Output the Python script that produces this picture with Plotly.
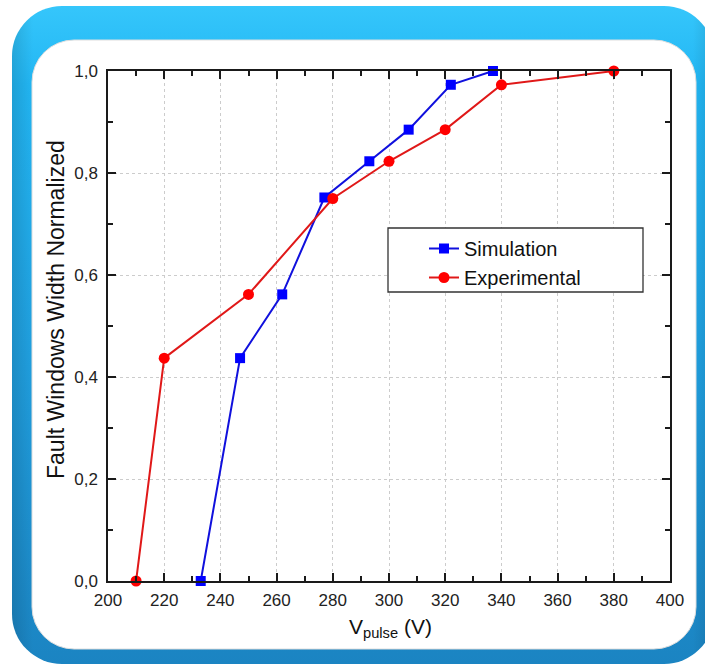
import base64
import plotly.graph_objects as go

# ---- data ----
sim_v = [233, 247, 262, 277, 293, 307, 322, 337]
sim_w = [0.0, 0.437, 0.562, 0.752, 0.823, 0.885, 0.973, 1.0]
exp_v = [210, 220, 250, 280, 300, 320, 340, 380]
exp_w = [0.0, 0.437, 0.562, 0.750, 0.823, 0.885, 0.973, 1.0]
x_ticks = [200, 220, 240, 260, 280, 300, 320, 340, 360, 380, 400]
y_ticks = [0.0, 0.2, 0.4, 0.6, 0.8, 1.0]

W, H = 705, 670
L, R, T, B = 108, 670, 71, 581  # plot area in px
PW, PH = R - L, B - T


def px(x):
    return (x - L) / PW


def py(y):
    return (B - y) / PH


FONT = "Liberation Sans, Arial, sans-serif"

svg = f'''<svg xmlns="http://www.w3.org/2000/svg" width="{W}" height="{H}" viewBox="0 0 {W} {H}">
<defs>
<linearGradient id="g" x1="0" y1="0" x2="0" y2="1">
<stop offset="0" stop-color="#35c6fb"/>
<stop offset="0.12" stop-color="#22b6f3"/>
<stop offset="0.55" stop-color="#209fdf"/>
<stop offset="1" stop-color="#1b84c2"/>
</linearGradient>
<linearGradient id="h" x1="0" y1="0" x2="1" y2="0">
<stop offset="0" stop-color="#000000" stop-opacity="0.12"/>
<stop offset="0.03" stop-color="#000000" stop-opacity="0"/>
<stop offset="0.97" stop-color="#000000" stop-opacity="0"/>
<stop offset="1" stop-color="#000000" stop-opacity="0.12"/>
</linearGradient>
</defs>
<rect x="12" y="6" width="702" height="658" rx="50" ry="50" fill="url(#g)"/>
<rect x="12" y="6" width="702" height="658" rx="50" ry="50" fill="url(#h)"/>
<rect x="32" y="40" width="664" height="609" rx="42" ry="42" fill="#ffffff" stroke="#dedede" stroke-width="1"/>
</svg>'''
src = "data:image/svg+xml;base64," + base64.b64encode(svg.encode()).decode()

fig = go.Figure()
fig.add_trace(go.Scatter(
    x=sim_v, y=sim_w, mode="lines+markers", name="Simulation",
    line=dict(color="#1010dd", width=2),
    marker=dict(symbol="square", size=10, color="#0000ff"),
    cliponaxis=False,
))
fig.add_trace(go.Scatter(
    x=exp_v, y=exp_w, mode="lines+markers", name="Experimental",
    line=dict(color="#e01818", width=2),
    marker=dict(symbol="circle", size=11, color="#ff0000"),
    cliponaxis=False,
))

axis_common = dict(
    showline=True, linecolor="#1a1a1a", linewidth=1.5, mirror="ticks",
    ticks="inside", ticklen=8, tickwidth=1.5, tickcolor="#1a1a1a",
    showgrid=True, gridcolor="#cccccc", griddash="dot", gridwidth=1,
    zeroline=False,
    tickfont=dict(family=FONT, size=17, color="#222222"),
)

fig.update_xaxes(
    range=[200, 400], tickvals=x_ticks, ticktext=[str(v) for v in x_ticks],
    minor=dict(dtick=10, tick0=200, ticks="inside", ticklen=5, tickwidth=1.5,
               tickcolor="#1a1a1a", showgrid=False),
    ticklabelstandoff=3,
    **axis_common,
)
fig.update_yaxes(
    range=[0, 1], tickvals=y_ticks, tickformat=".1f",
    minor=dict(dtick=0.1, tick0=0, ticks="inside", ticklen=5, tickwidth=1.5,
               tickcolor="#1a1a1a", showgrid=False),
    ticklabelstandoff=5,
    **axis_common,
)

fig.update_layout(
    width=W, height=H,
    margin=dict(l=L, r=W - R, t=T, b=H - B, pad=0),
    paper_bgcolor="#ffffff", plot_bgcolor="rgba(0,0,0,0)",
    separators=", ",
    showlegend=True,
    legend=dict(
        x=px(424), y=py(229), xanchor="left", yanchor="top",
        bgcolor="rgba(0,0,0,0)", borderwidth=0,
        font=dict(family=FONT, size=20, color="#111111"),
        tracegroupgap=0,
    ),
    images=[dict(
        source=src, xref="paper", yref="paper",
        x=px(0), y=py(0), sizex=W / PW, sizey=H / PH,
        xanchor="left", yanchor="top", sizing="stretch", layer="below",
    )],
    shapes=[dict(
        type="rect", xref="paper", yref="paper",
        x0=px(388), x1=px(643), y0=py(292), y1=py(228),
        line=dict(color="#333333", width=1.3), fillcolor="#ffffff", layer="above",
    )],
    annotations=[
        dict(text="Fault Windows Width Normalized", textangle=-90,
             xref="paper", yref="paper", x=px(56), y=py(310),
             xanchor="center", yanchor="middle", showarrow=False,
             font=dict(family=FONT, size=23, color="#111111")),
        dict(text="V<sub>pulse</sub> (V)",
             xref="paper", yref="paper", x=px(390), y=py(628),
             xanchor="center", yanchor="middle", showarrow=False,
             font=dict(family=FONT, size=21, color="#111111")),
    ],
)

fig.write_html("out.html")
